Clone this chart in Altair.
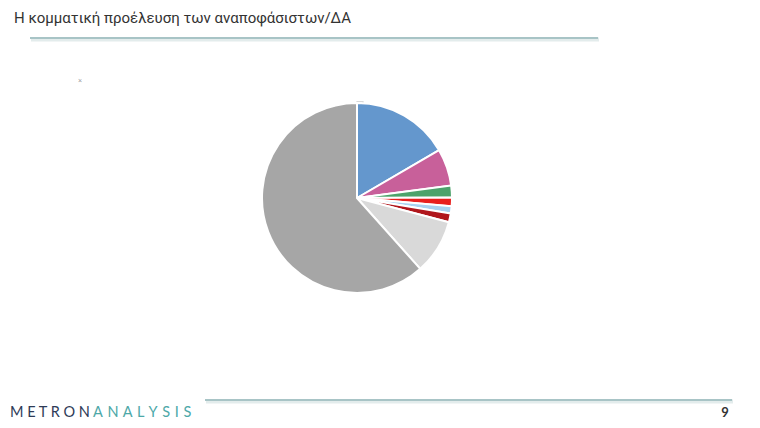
import altair as alt
import pandas as pd

# Pie slices (clockwise from 12 o'clock), shares in %
slice_names = ["s1", "s2", "s3", "s4", "s5", "s6", "s7", "s8"]
slice_values = [16.6, 6.3, 2.0, 1.5, 1.2, 1.5, 9.3, 61.6]
slice_colors = ["#6497CD", "#C8609A", "#4CA36B", "#E8201E", "#A9D2F0", "#B0161C", "#D9D9D9", "#A6A6A6"]

title_text = "Η κομματική προέλευση των αναποφάσιστων/ΔΑ"
logo_left = "M E T R O N"
logo_right = "A\u200a N\u200a A\u200a L\u200a Y\u200a S\u200a I\u200a S"
page_number = "9"

W, H = 744, 412

df = pd.DataFrame({"name": slice_names, "value": slice_values,
                   "order": list(range(len(slice_names)))})

cx, cy, R = 349, 190, 95

outline = alt.Chart(pd.DataFrame({"v": [1]})).mark_arc(
    outerRadius=R + 1.5, fill="white", stroke="#D8D8D8", strokeWidth=1.2
).encode(theta=alt.Theta("v:Q"), x=alt.value(cx), y=alt.value(cy))

pie = alt.Chart(df).mark_arc(outerRadius=R, stroke="white", strokeWidth=2).encode(
    theta=alt.Theta("value:Q", stack=True),
    order=alt.Order("order:Q"),
    color=alt.Color("name:N", scale=alt.Scale(domain=slice_names, range=slice_colors), legend=None),
    x=alt.value(cx), y=alt.value(cy),
)

one = pd.DataFrame({"t": [title_text]})

title = alt.Chart(one).mark_text(
    align="left", baseline="middle", font="Roboto", fontSize=15, color="#333333"
).encode(text="t:N", x=alt.value(6), y=alt.value(10))

# decorative lines with faint shadow
top_shadow = alt.Chart(one).mark_rule(color="#E3ECEC", strokeWidth=4).encode(
    x=alt.value(23), x2=alt.value(591), y=alt.value(31.5))
top_line = alt.Chart(one).mark_rule(color="#A8C4C6", strokeWidth=2).encode(
    x=alt.value(22), x2=alt.value(590), y=alt.value(30))
bot_shadow = alt.Chart(one).mark_rule(color="#E3ECEC", strokeWidth=4).encode(
    x=alt.value(198), x2=alt.value(725), y=alt.value(393.5))
bot_line = alt.Chart(one).mark_rule(color="#A8C4C6", strokeWidth=2).encode(
    x=alt.value(197), x2=alt.value(724), y=alt.value(392))

logo1 = alt.Chart(pd.DataFrame({"t": [logo_left]})).mark_text(
    align="left", baseline="middle", font="Lato", fontSize=14.5, color="#2E3B57"
).encode(text="t:N", x=alt.value(2), y=alt.value(405))
logo2 = alt.Chart(pd.DataFrame({"t": [logo_right]})).mark_text(
    align="left", baseline="middle", font="Lato", fontSize=14.5, color="#4DA8A8"
).encode(text="t:N", x=alt.value(85), y=alt.value(405))

pnum = alt.Chart(pd.DataFrame({"t": [page_number]})).mark_text(
    align="center", baseline="middle", font="Lato", fontSize=13, fontWeight="bold", color="#333333"
).encode(text="t:N", x=alt.value(717), y=alt.value(405))

mark = alt.Chart(pd.DataFrame({"t": ["×"]})).mark_text(
    align="center", baseline="middle", fontSize=7, color="#999999"
).encode(text="t:N", x=alt.value(72), y=alt.value(73))

chart = alt.layer(
    top_shadow, top_line, bot_shadow, bot_line, title, logo1, logo2, pnum, mark, outline, pie
).properties(
    width=W, height=H, autosize=alt.AutoSizeParams(type="none"), padding=0,
    background="white"
).configure_view(strokeWidth=0, stroke="transparent")

chart.save("out.html", embed_options={"renderer": "svg", "actions": False})
